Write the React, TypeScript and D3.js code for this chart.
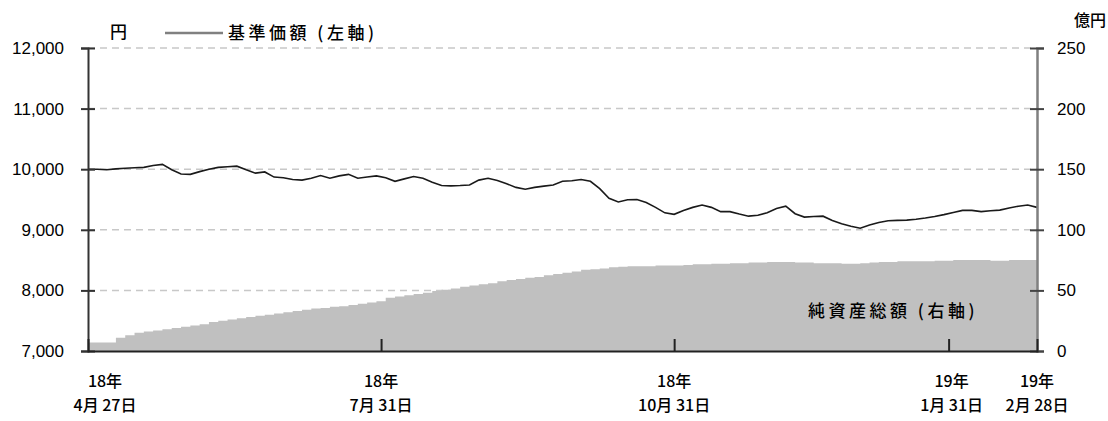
import { useEffect, useRef } from "react";
import * as d3 from "d3";

// sampled every 2 trading days, 2018-04-27 .. 2019-02-28 (204 trading days)
const navValues = [
  10000, 10000, 9990, 10005, 10015, 10025, 10030, 10060, 10080, 9990,
  9920, 9915, 9960, 10000, 10030, 10040, 10050, 9990, 9935, 9955,
  9870, 9860, 9830, 9820, 9850, 9895, 9850, 9890, 9915, 9850,
  9870, 9890, 9860, 9800, 9840, 9880, 9850, 9785, 9730, 9725,
  9730, 9740, 9820, 9850, 9815, 9760, 9700, 9670, 9700, 9720,
  9740, 9800, 9810, 9830, 9800, 9680, 9520, 9460, 9495, 9500,
  9450, 9370, 9280, 9255, 9320, 9370, 9410, 9370, 9300, 9300,
  9260, 9225, 9240, 9280, 9350, 9390, 9265, 9210, 9220, 9225,
  9155, 9100, 9060, 9025, 9080, 9120, 9150, 9155, 9160, 9175,
  9195, 9220, 9250, 9285, 9320, 9320, 9300, 9315, 9325, 9360,
  9390, 9410, 9370,
];

const assetValues = [
  7, 7, 7, 11, 13, 15, 16, 17, 18, 19,
  20, 21, 22, 24, 25, 26, 27, 28, 29, 30,
  31, 32, 33, 34, 35, 35.5, 36.5, 37, 38, 39,
  40, 41, 44, 45, 46, 47, 48, 49.5, 50.5, 51.5,
  53, 54, 55, 56, 57.5, 58.5, 59.5, 60.5, 61, 62.5,
  63.5, 64.5, 65.5, 67, 67.5, 68, 69, 69.5, 70, 70,
  70, 70.5, 70.5, 70.5, 71, 71.5, 71.5, 72, 72, 72.5,
  72.5, 73, 73, 73.5, 73.5, 73.5, 73, 73, 72.5, 72.5,
  72.5, 72, 72, 72.5, 73, 73.5, 73.5, 74, 74, 74,
  74, 74.5, 74.5, 75, 75, 75, 75, 74.5, 74.5, 75,
  75, 75, 75,
];

const tickDays = [0, 63, 126, 185, 204];
const tickYears = ["18年", "18年", "18年", "19年", "19年"];
const tickDates = ["4月 27日", "7月 31日", "10月 31日", "1月 31日", "2月 28日"];

const leftTicks = [7000, 8000, 9000, 10000, 11000, 12000];
const rightTicks = [0, 50, 100, 150, 200, 250];

const App = () => {
  const ref = useRef<SVGSVGElement>(null);

  useEffect(() => {
    const svg = d3.select(ref.current);
    svg.selectAll("*").remove();

    const left = 88, right = 1037, top = 48, bottom = 351;
    const numFont = "'Liberation Sans', Arial, sans-serif";
    const jpFont = "'Noto Sans CJK JP', sans-serif";

    const x = d3.scaleLinear().domain([0, 204]).range([left, right]);
    const yL = d3.scaleLinear().domain([7000, 12000]).range([bottom, top]);
    const yR = d3.scaleLinear().domain([0, 250]).range([bottom, top]);

    // grid
    svg.append("g")
      .selectAll("line")
      .data(leftTicks.filter((d) => d > 7000))
      .join("line")
      .attr("x1", left)
      .attr("x2", right)
      .attr("y1", (d) => yL(d))
      .attr("y2", (d) => yL(d))
      .attr("stroke", "#c8c8c8")
      .attr("stroke-width", 1.5)
      .attr("stroke-dasharray", "7,5");

    // net assets area
    const area = d3.area<number>()
      .x((_, i) => x(i * 2))
      .y0(yR(0))
      .y1((d) => yR(d))
      .curve(d3.curveStepAfter);
    svg.append("path").datum(assetValues).attr("d", area).attr("fill", "#c0c0c0");

    // nav line
    const line = d3.line<number>()
      .x((_, i) => x(i * 2))
      .y((d) => yL(d));
    svg.append("path")
      .datum(navValues)
      .attr("d", line)
      .attr("fill", "none")
      .attr("stroke", "#1a1a1a")
      .attr("stroke-width", 1.6);

    // left axis
    const gl = svg.append("g")
      .attr("transform", `translate(${left},0)`)
      .call(d3.axisLeft(yL).tickValues(leftTicks).tickFormat(d3.format(",")).tickSize(7).tickPadding(17));
    gl.select(".domain").attr("stroke", "#333").attr("stroke-width", 2);
    gl.selectAll(".tick line").attr("x2", 7).attr("x1", -7).attr("stroke", "#333").attr("stroke-width", 2);
    gl.selectAll(".tick text").attr("font-family", numFont).attr("font-size", 17).attr("fill", "#000");

    // right axis
    const gr = svg.append("g")
      .attr("transform", `translate(${right},0)`)
      .call(d3.axisRight(yR).tickValues(rightTicks).tickSize(7).tickPadding(13));
    gr.select(".domain").attr("stroke", "#808080").attr("stroke-width", 2.5);
    gr.selectAll(".tick line").attr("x1", -7).attr("x2", 7).attr("stroke", "#444").attr("stroke-width", 2);
    gr.selectAll(".tick text").attr("font-family", numFont).attr("font-size", 17).attr("fill", "#000");

    // bottom axis
    const gb = svg.append("g")
      .attr("transform", `translate(0,${bottom})`)
      .call(d3.axisBottom(x).tickValues(tickDays.slice(1, 4)).tickSize(-12).tickFormat(() => ""));
    gb.select(".domain").attr("stroke", "#222").attr("stroke-width", 2);
    gb.selectAll(".tick line").attr("stroke", "#222").attr("stroke-width", 2);

    // x labels
    const labels = svg.append("g")
      .attr("font-family", jpFont)
      .attr("font-size", 16)
      .attr("font-weight", 500)
      .attr("fill", "#000")
      .attr("text-anchor", "middle");
    tickDays.forEach((d, i) => {
      const cx = i === 0 ? x(d) + 17 : i === 3 ? x(d) + 3 : x(d);
      labels.append("text").attr("x", cx).attr("y", 387).text(tickYears[i]);
      labels.append("text").attr("x", cx).attr("y", 411).text(tickDates[i]);
    });

    // units & legend
    svg.append("text").attr("x", 110).attr("y", 38).attr("font-family", jpFont)
      .attr("font-size", 17).attr("font-weight", 500).attr("fill", "#000").text("円");
    svg.append("text").attr("x", 1074).attr("y", 26).attr("font-family", jpFont)
      .attr("font-size", 16).attr("font-weight", 500).attr("fill", "#000").text("億円");
    svg.append("line").attr("x1", 165).attr("x2", 223).attr("y1", 33).attr("y2", 33)
      .attr("stroke", "#808080").attr("stroke-width", 2.5);
    svg.append("text").attr("x", 228).attr("y", 39).attr("font-family", jpFont)
      .attr("font-size", 17).attr("font-weight", 500).attr("letter-spacing", 3.5)
      .attr("fill", "#000").text("基準価額 (左軸)");
    svg.append("text").attr("x", 808).attr("y", 317).attr("font-family", jpFont)
      .attr("font-size", 17).attr("font-weight", 500).attr("letter-spacing", 3.5)
      .attr("fill", "#000").text("純資産総額 (右軸)");
  }, []);

  return (
    <svg
      ref={ref}
      width={1108}
      height={421}
      style={{ position: "absolute", left: 0, top: 0, background: "#fff" }}
    />
  );
};

export default App;
